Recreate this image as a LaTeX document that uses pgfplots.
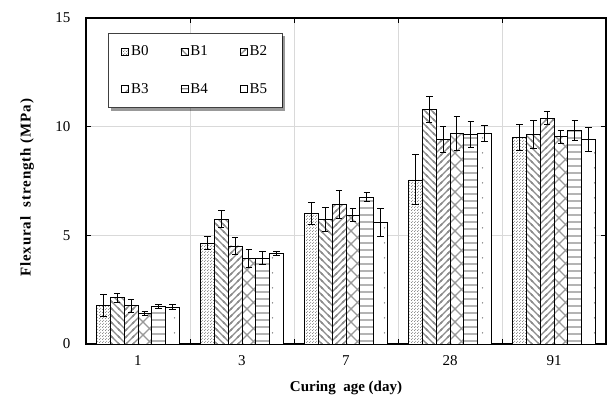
\documentclass[border=0pt]{standalone}
\usepackage{fontspec}
\setmainfont{Liberation Serif}
\usepackage{pgfplots}
\pgfplotsset{compat=1.18}
\usetikzlibrary{patterns,patterns.meta}

\tikzdeclarepattern{
  name=bdots, type=uncolored,
  bottom left={(0pt,0pt)}, top right={(3pt,3pt)}, tile size={(3pt,3pt)},
  code={\fill (0.75pt,0.75pt) circle (0.6pt); \fill (2.25pt,2.25pt) circle (0.6pt);}
}
\tikzdeclarepattern{
  name=sdots, type=uncolored,
  bottom left={(0pt,0pt)}, top right={(14pt,15pt)}, tile size={(14pt,15pt)},
  code={\fill (7pt,7.5pt) circle (0.8pt);}
}
\tikzdeclarepattern{
  name=nwl, type=uncolored,
  bottom left={(-1pt,-1pt)}, top right={(8pt,8pt)}, tile size={(7pt,7pt)},
  code={\draw[line width=1.2pt] (-1pt,8pt)--(8pt,-1pt); \draw[line width=1.2pt] (-1pt,1pt)--(1pt,-1pt); \draw[line width=1.2pt] (6pt,8pt)--(8pt,6pt);}
}
\tikzdeclarepattern{
  name=nel, type=uncolored,
  bottom left={(-1pt,-1pt)}, top right={(8pt,8pt)}, tile size={(7pt,7pt)},
  code={\draw[line width=1.2pt] (-1pt,-1pt)--(8pt,8pt); \draw[line width=1.2pt] (-1pt,6pt)--(1pt,8pt); \draw[line width=1.2pt] (6pt,-1pt)--(8pt,1pt);}
}
\tikzdeclarepattern{
  name=xhatch, type=uncolored,
  bottom left={(-1pt,-1pt)}, top right={(14pt,14pt)}, tile size={(13pt,13pt)},
  code={\draw[line width=1.1pt] (-1pt,-1pt)--(14pt,14pt); \draw[line width=1.1pt] (-1pt,14pt)--(14pt,-1pt);}
}
\tikzdeclarepattern{
  name=hl, type=uncolored,
  bottom left={(0pt,0pt)}, top right={(7pt,7pt)}, tile size={(7pt,7pt)},
  code={\draw[line width=1.5pt] (-1pt,3.5pt)--(8pt,3.5pt);}
}

\pgfplotsset{
  barleg/.style={legend image code/.code={\draw[##1,draw=black,line width=0.7pt] (0pt,-3.5pt) rectangle (7pt,3.5pt);}},
}

\begin{document}
\begin{tikzpicture}
\begin{axis}[name=ax,
  scale only axis, width=520pt, height=326pt,
  ybar=0pt, bar width=13.8pt,
  xmin=-0.5, xmax=4.5, ymin=0, ymax=15,
  xtick={0,1,2,3,4}, xticklabels={1,3,7,28,91},
  minor xtick={0.5,1.5,2.5,3.5},
  major x tick style={draw=none},
  minor x tick style={black, line width=0.8pt},
  xminorgrids, minor x grid style={black!15, line width=0.8pt},
  ytick={0,5,10,15}, ymajorgrids, major y grid style={black!15, line width=0.8pt},
  y tick style={black, line width=0.8pt},
  tick align=inside, major tick length=5pt, minor tick length=5pt,
  axis line style={line width=1.3pt},
  /pgf/number format/assume math mode=true,
  tick label style={font=\fontsize{15}{18}\selectfont},
  yticklabel style={xshift=-12pt},
  xticklabel style={yshift=-8pt},
  xlabel={Curing\ \ age (day)},
  ylabel={Flexural\ \ strength (MPa)},
  every axis x label/.style={at={(axis description cs:0.5,-0.1350)}, anchor=center, font=\fontsize{15}{18}\selectfont\bfseries},
  every axis y label/.style={at={(axis description cs:-0.1135,0.479)}, anchor=center, rotate=90, font=\fontsize{15}{18}\selectfont\bfseries\addfontfeature{LetterSpace=6}},
  legend columns=3,
  legend style={name=leg, at={(axis description cs:0.0423,0.954)}, anchor=north west,
    draw=black!75, line width=0.8pt, fill=white,
    font=\fontsize{15}{18}\selectfont, inner xsep=13pt, inner ysep=10.5pt,
    row sep=22pt,
    /tikz/every even column/.append style={column sep=30pt}},
  legend cell align=left,
  error bars/y dir=both, error bars/y explicit,
  error bars/error bar style={black, line width=0.9pt},
  error bars/error mark options={rotate=90, mark size=3.2pt, line width=0.9pt, black},
]
\addplot[draw=black, line width=0.8pt, fill=white, postaction={pattern color=black!60, pattern=bdots}, barleg]
  coordinates {(0,1.77) +- (0,0.5) (1,4.63) +- (0,0.3) (2,6.01) +- (0,0.5) (3,7.55) +- (0,1.15) (4,9.49) +- (0,0.6)};
\addplot[draw=black, line width=0.8pt, fill=white, postaction={pattern color=black!45, pattern=nwl}, barleg]
  coordinates {(0,2.13) +- (0,0.2) (1,5.74) +- (0,0.4) (2,5.75) +- (0,0.55) (3,10.8) +- (0,0.6) (4,9.65) +- (0,0.65)};
\addplot[draw=black, line width=0.8pt, fill=white, postaction={pattern color=black!45, pattern=nel}, barleg]
  coordinates {(0,1.76) +- (0,0.3) (1,4.51) +- (0,0.4) (2,6.41) +- (0,0.65) (3,9.43) +- (0,0.6) (4,10.38) +- (0,0.3)};
\addplot[draw=black, line width=0.8pt, fill=white, postaction={pattern color=black!40, pattern=xhatch}, barleg]
  coordinates {(0,1.41) +- (0,0.08) (1,3.94) +- (0,0.4) (2,5.92) +- (0,0.3) (3,9.69) +- (0,0.8) (4,9.54) +- (0,0.3)};
\addplot[draw=black, line width=0.8pt, fill=white, postaction={pattern color=black!45, pattern=hl}, barleg]
  coordinates {(0,1.72) +- (0,0.1) (1,3.94) +- (0,0.3) (2,6.76) +- (0,0.2) (3,9.65) +- (0,0.6) (4,9.82) +- (0,0.45)};
\addplot[draw=black, line width=0.8pt, fill=white, postaction={pattern color=black!50, pattern=sdots}, barleg]
  coordinates {(0,1.69) +- (0,0.12) (1,4.16) +- (0,0.1) (2,5.58) +- (0,0.65) (3,9.69) +- (0,0.35) (4,9.42) +- (0,0.55)};
\legend{B0,B1,B2,B3,B4,B5}
\end{axis}
% drop shadow of the legend box (visible L-shaped part only)
\fill[black, opacity=0.4] ([xshift=3pt]leg.south west) rectangle ([xshift=3pt,yshift=-3pt]leg.south east);
\fill[black, opacity=0.4] ([yshift=-3pt]leg.north east) rectangle ([xshift=3pt]leg.south east);
\pgfresetboundingbox
\path (ax.south west) ++(-86pt,-56pt) coordinate (bbA);
\path (ax.north east) ++(2pt,18pt) coordinate (bbB);
\useasboundingbox (bbA) rectangle (bbB);
\end{tikzpicture}
\end{document}
